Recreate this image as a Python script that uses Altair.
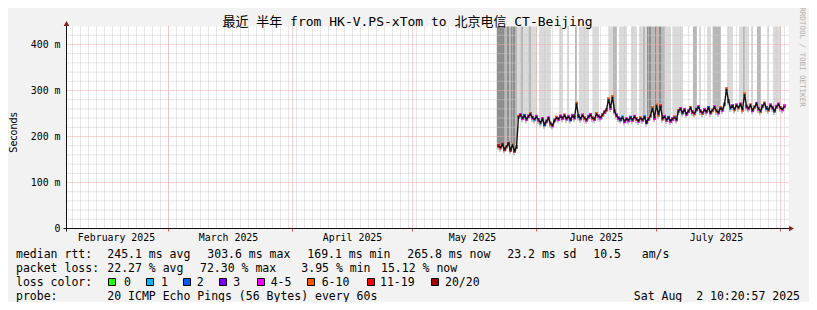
import altair as alt
import pandas as pd

# ---------------- data ----------------
title_text = "最近 半年 from HK-V.PS-xTom to 北京电信 CT-Beijing"

# time is counted in days since 2025-02-01 00:00
month_starts = [0, 28, 59, 89, 120, 150, 181]
month_names = ["February 2025", "March 2025", "April 2025", "May 2025", "June 2025", "July 2025"]
view_start_day = 2.5
view_end_day = 183.0
first_sample_day = 110.5
sample_step_day = 0.5

median_ms = [
    180, 176, 183, 172, 178, 185, 171, 181, 169, 177,
    243, 247, 240, 245, 238, 244, 249, 241, 237, 243,
    236, 230, 238, 226, 233, 240, 228, 224, 235, 241,
    238, 244, 240, 246, 239, 243, 237, 245, 241, 272,
    244, 239, 246, 240, 236, 243, 247, 240, 238, 249,
    244, 241, 247, 253, 258, 281, 262, 286, 255, 246,
    240, 237, 242, 233, 238, 235, 241, 236, 243, 238,
    234, 240, 236, 242, 231, 238, 245, 262, 240, 268,
    247, 266, 239, 243, 236, 241, 234, 238, 242, 237,
    256, 260, 252, 258, 249, 255, 262, 253, 250, 259,
    264, 255, 251, 258, 254, 262, 252, 257, 264, 256,
    252, 262, 258, 270, 303, 277, 262, 266, 259, 268,
    263, 270, 258, 292, 265, 261, 268, 257, 264, 271,
    260, 255, 266, 272, 262, 258, 268, 263, 256, 265,
    270, 262, 259, 266,
]
# index into loss_labels
loss_idx = [
    6, 5, 6, 6, 5, 6, 6, 5, 6, 5,
    5, 4, 4, 2, 4, 4, 5, 4, 1, 4,
    4, 1, 4, 2, 4, 4, 5, 4, 4, 5,
    4, 4, 4, 5, 4, 4, 2, 4, 4, 5,
    2, 4, 4, 5, 4, 4, 4, 5, 4, 5,
    4, 4, 5, 4, 5, 5, 4, 5, 4, 4,
    4, 2, 1, 4, 4, 4, 2, 4, 4, 5,
    4, 5, 4, 2, 3, 4, 5, 5, 4, 5,
    5, 6, 5, 4, 4, 2, 4, 4, 5, 4,
    5, 4, 2, 4, 4, 4, 5, 4, 5, 2,
    4, 4, 5, 4, 4, 2, 4, 5, 4, 5,
    4, 5, 4, 5, 5, 4, 1, 3, 5, 4,
    5, 4, 5, 5, 4, 4, 5, 4, 5, 4,
    4, 5, 4, 5, 2, 5, 4, 4, 2, 4,
    4, 5, 4, 4,
]
# smoke density towards the top: 0 none, 1 light, 2 medium, 3 dark
smoke_shade = [
    3, 3, 3, 3, 2, 3, 2, 3, 3, 2,
    1, 1, 2, 1, 1, 1, 2, 1, 1, 1,
    0, 1, 1, 1, 1, 1, 1, 0, 0, 0,
    0, 1, 1, 0, 0, 1, 0, 0, 0, 2,
    0, 1, 1, 1, 1, 1, 0, 0, 1, 1,
    1, 0, 0, 0, 0, 0, 1, 1, 2, 2,
    0, 1, 1, 1, 1, 0, 0, 1, 1, 1,
    0, 1, 1, 2, 1, 3, 3, 2, 2, 3,
    2, 3, 2, 2, 1, 1, 1, 0, 1, 1,
    1, 1, 1, 0, 0, 0, 0, 0, 2, 2,
    0, 1, 0, 0, 0, 1, 1, 0, 2, 2,
    2, 2, 0, 0, 0, 1, 1, 1, 0, 0,
    0, 1, 1, 2, 1, 1, 0, 1, 0, 0,
    2, 2, 0, 0, 0, 1, 0, 0, 1, 1,
    1, 1, 0, 0,
]

loss_labels = ["0", "1", "2", "3", "4-5", "6-10", "11-19", "20/20"]
loss_colors = ["#26ff00", "#00b8ff", "#0059ff", "#7e00ff", "#ff00ff", "#ff5500", "#ff0000", "#a10000"]
smoke_colors = ["#ffffff", "#dadada", "#b8b8b8", "#8e8e8e"]

y_ticks = [0, 100, 200, 300, 400]
y_tick_labels = ["0\u00a0\u00a0", "100 m", "200 m", "300 m", "400 m"]
minor_y_step = 20
minor_x_step_days = 2

rtt_title = "median rtt:"
rtt_stats = ["245.1 ms avg", "303.6 ms max", "169.1 ms min", "265.8 ms now", "23.2 ms sd", "10.5\u00a0\u00a0\u00a0am/s"]
loss_title = "packet loss:"
loss_stats = ["22.27 % avg", "72.30 % max", "3.95 % min", "15.12 % now"]
color_title = "loss color:"
probe_title = "probe:"
probe_text = "20 ICMP Echo Pings (56 Bytes) every 60s"
stamp_text = "Sat Aug\u00a0\u00a02 10:20:57 2025"
y_title = "Seconds"
watermark = "RRDTOOL / TOBI OETIKER"

# ---------------- layout ----------------
X0, Y0 = 66.5, 26.5          # plot origin in page pixels
PW, PH = 722, 202
YMAX = PH / 0.46
MONO = "DejaVu Sans Mono"
BG = "#f2f2f2"


def vx(ax):
    return ax - X0


def vy(ay):
    return ay - Y0


xs = alt.Scale(domain=[view_start_day, view_end_day], nice=False, zero=False)
ys = alt.Scale(domain=[0, YMAX], nice=False, zero=True)
one = pd.DataFrame({"k": [0]})

n = len(median_ms)
days = [first_sample_day + sample_step_day * i for i in range(n)]
samples = pd.DataFrame({
    "day": days,
    "ms": median_ms,
    "loss_col": [loss_colors[k] for k in loss_idx],
    "shade": smoke_shade,
    "smoke_col": [smoke_colors[s] for s in smoke_shade],
})
half = sample_step_day / 2
samples["bx0"] = samples["day"] - half - 0.125
samples["bx1"] = samples["day"] + half - 0.125
samples["tx0"] = samples["day"] - 0.375
samples["tx1"] = samples["day"] + 0.375
samples["smoke_lo"] = samples["ms"] + 5
samples["top"] = YMAX
samples["sh_lo"] = samples["ms"] - 9
samples["sh_hi"] = samples["ms"]
samples["t_lo"] = samples["ms"] - 4.2
samples["t_hi"] = samples["ms"] + 4.2

layers = []

# smoke to the top
layers.append(alt.Chart(samples[samples["shade"] > 0]).mark_rect().encode(
    x=alt.X("bx0:Q", scale=xs, axis=None), x2="bx1:Q",
    y=alt.Y("smoke_lo:Q", scale=ys, axis=None), y2="top:Q",
    color=alt.Color("smoke_col:N", scale=None),
))

# grids
minor_v = pd.DataFrame({"day": list(range(4, int(view_end_day), minor_x_step_days))})
major_v = pd.DataFrame({"day": month_starts[1:]})
minor_h = pd.DataFrame({"v": [v for v in range(minor_y_step, int(YMAX), minor_y_step) if v % 100]})
major_h = pd.DataFrame({"v": y_ticks[1:]})
GRID = "#cbcbcb"
MGRID = "#f4a8a8"
layers.append(alt.Chart(minor_v).mark_rule(color=GRID, strokeDash=[1, 1], strokeWidth=1).encode(
    x=alt.X("day:Q", scale=xs, axis=None)))
layers.append(alt.Chart(minor_h).mark_rule(color=GRID, strokeDash=[1, 1], strokeWidth=1).encode(
    y=alt.Y("v:Q", scale=ys, axis=None)))
layers.append(alt.Chart(major_v).mark_rule(color=MGRID, strokeDash=[1, 1], strokeWidth=1).encode(
    x=alt.X("day:Q", scale=xs, axis=None)))
layers.append(alt.Chart(major_h).mark_rule(color=MGRID, strokeDash=[1, 1], strokeWidth=1).encode(
    y=alt.Y("v:Q", scale=ys, axis=None)))
# tick stubs below the x axis at month starts
layers.append(alt.Chart(major_v).mark_rule(color="#e06060", strokeWidth=1).encode(
    x=alt.X("day:Q", scale=xs, axis=None), y=alt.value(PH), y2=alt.value(PH + 3)))

# smoke near the median
layers.append(alt.Chart(samples).mark_rect(color="#c4c4c4").encode(
    x=alt.X("bx0:Q", scale=xs, axis=None), x2="bx1:Q",
    y=alt.Y("sh_lo:Q", scale=ys, axis=None), y2="sh_hi:Q"))
# loss-coloured median marks (under the dark median smoke)
layers.append(alt.Chart(samples).mark_rect().encode(
    x=alt.X("tx0:Q", scale=xs, axis=None), x2="tx1:Q",
    y=alt.Y("t_lo:Q", scale=ys, axis=None), y2="t_hi:Q",
    color=alt.Color("loss_col:N", scale=None)))
# median line
layers.append(alt.Chart(samples).mark_line(color="#111111", strokeWidth=1.4).encode(
    x=alt.X("day:Q", scale=xs, axis=None), y=alt.Y("ms:Q", scale=ys, axis=None)))

# axes lines and arrows
AX_COL = "#101010"
ARROW = "#8b1a1a"
layers.append(alt.Chart(one).mark_rule(color=AX_COL, strokeWidth=1).encode(
    x=alt.value(-3), x2=alt.value(PW + 1), y=alt.value(PH)))
layers.append(alt.Chart(one).mark_rule(color=AX_COL, strokeWidth=1).encode(
    x=alt.value(0), y=alt.value(-1), y2=alt.value(PH + 3)))
layers.append(alt.Chart(one).mark_point(shape="triangle-up", filled=True, size=32, color=ARROW, opacity=1).encode(
    x=alt.value(0), y=alt.value(-3)))
layers.append(alt.Chart(one).mark_point(shape="triangle-right", filled=True, size=32, color=ARROW, opacity=1).encode(
    x=alt.value(vx(791.5)), y=alt.value(PH)))

# y tick labels
ydf = pd.DataFrame({"v": y_ticks, "lab": y_tick_labels})
layers.append(alt.Chart(ydf).mark_text(align="right", baseline="alphabetic", dy=3.6, fontSize=9.9, font=MONO, color="#000").encode(
    y=alt.Y("v:Q", scale=ys, axis=None), x=alt.value(-6), text="lab:N"))

# month labels, centred on the 16th
mdf = pd.DataFrame({"mid": [m + 15 for m in month_starts[:-1]], "name": month_names})
layers.append(alt.Chart(mdf).mark_text(align="center", baseline="alphabetic", fontSize=9.9, font=MONO, color="#000").encode(
    x=alt.X("mid:Q", scale=xs, axis=None), y=alt.value(vy(241)), text="name:N"))


def txt(s, ax, ay, size=11.5, align="left", angle=0, color="#000000", font=MONO, baseline="alphabetic"):
    return alt.Chart(one).mark_text(text=s, align=align, baseline=baseline, fontSize=size, font=font,
                                    color=color, angle=angle).encode(x=alt.value(vx(ax)), y=alt.value(vy(ay)))


layers.append(txt(title_text, 407.5, 26, size=13, align="center", font="DejaVu Sans Mono, Noto Sans CJK SC"))
layers.append(txt(y_title, 14, 132.5, size=9.6, align="center", angle=270, font="DejaVu Sans", baseline="middle"))
layers.append(txt(watermark, 801.5, 57, size=7.5, align="center", angle=90, color="#b0b0b0", baseline="middle"))

ROW = [258.4, 272.4, 286.4, 300.1]
LX = 16
rtt_x = [107.3, 207.3, 307.3, 407.3, 507.3, 593.3]
loss_x = [107.3, 200, 301.3, 381]
box_x = [108.3, 145.7, 182.7, 219.3, 256.7, 307, 366.7, 430.7]
box_lab_x = [124, 161, 196.7, 233.3, 270.7, 321.7, 380, 445]

layers.append(txt(rtt_title, LX, ROW[0]))
for s, x in zip(rtt_stats, rtt_x):
    layers.append(txt(s, x, ROW[0]))
layers.append(txt(loss_title, LX, ROW[1]))
for s, x in zip(loss_stats, loss_x):
    layers.append(txt(s, x, ROW[1]))
layers.append(txt(color_title, LX, ROW[2]))
for lab, col, bx, lx in zip(loss_labels, loss_colors, box_x, box_lab_x):
    b = round(bx) + 0.5
    layers.append(alt.Chart(one).mark_rect(fill=col, stroke="#000000", strokeWidth=1).encode(
        x=alt.value(vx(b)), x2=alt.value(vx(b + 7)), y=alt.value(vy(278.5)), y2=alt.value(vy(285.5))))
    layers.append(txt(lab, lx, ROW[2]))
layers.append(txt(probe_title, LX, ROW[3]))
layers.append(txt(probe_text, 107.3, ROW[3]))
layers.append(txt(stamp_text, 800, ROW[3], align="right"))

TOTAL_W, TOTAL_H = 801, 294
chart = alt.layer(*layers).properties(
    width=PW, height=PH,
    autosize=alt.AutoSizeParams(type="none"),
    padding={"left": X0 - 8, "top": Y0 - 8, "right": TOTAL_W - (X0 - 8) - PW, "bottom": TOTAL_H - (Y0 - 8) - PH},
    background=BG,
).configure_view(fill="white", stroke=None)

chart.save("out.html", embed_options={"renderer": "svg", "actions": False})
